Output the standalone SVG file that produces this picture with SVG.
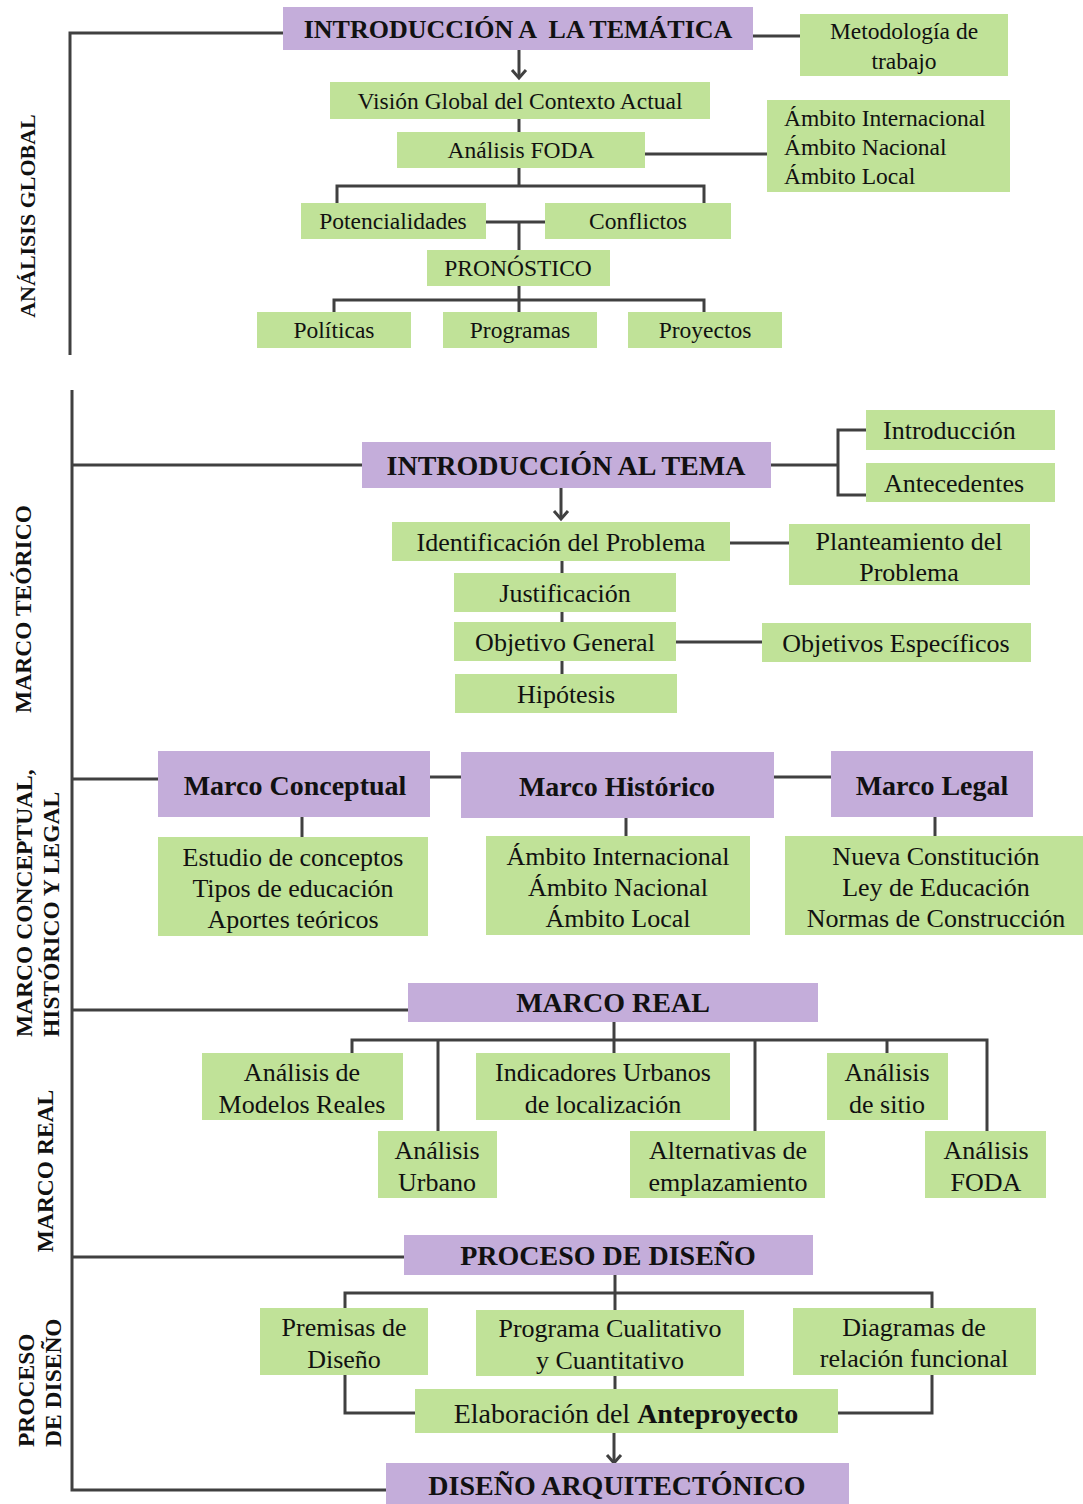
<svg xmlns="http://www.w3.org/2000/svg" width="1083" height="1504" viewBox="0 0 1083 1504">
<style>
.p{fill:#C4ADDA}
.g{fill:#C0E298}
.ln{fill:none;stroke:#404040;stroke-width:3}
text{font-family:"Liberation Serif","Times New Roman",serif;fill:#111}
.t1{font-size:23.5px;text-anchor:middle}
.t1s{font-size:23.5px}
.t2{font-size:26px;text-anchor:middle}
.t2s{font-size:26px}
.h1{font-size:26px;font-weight:bold;text-anchor:middle;white-space:pre}
.h2{font-size:28px;font-weight:bold;text-anchor:middle}
.sd{font-size:23.5px;font-weight:bold}
</style>
<defs>
<marker id="arr" viewBox="-10 -8 12 16" refX="0" refY="0" markerWidth="12" markerHeight="16" markerUnits="userSpaceOnUse" orient="auto" overflow="visible">
<path d="M-8,-7 L0,0 L-8,7" fill="none" stroke="#404040" stroke-width="3"/>
</marker>
</defs>

<g id="connectors">
<path class="ln" d="M70,355 V33 H283"/>
<path class="ln" d="M753,36 H800"/>
<path class="ln" d="M519,50 V78" marker-end="url(#arr)"/>
<path class="ln" d="M519,119 V132"/>
<path class="ln" d="M645,154 H767"/>
<path class="ln" d="M519,168 V186"/>
<path class="ln" d="M337,203 V186 H704 V203"/>
<path class="ln" d="M486,222 H545"/>
<path class="ln" d="M519,222 V250"/>
<path class="ln" d="M519,286 V312"/>
<path class="ln" d="M334,312 V300 H704 V312"/>

<path class="ln" d="M72,390 V1490 H386"/>
<path class="ln" d="M72,465 H362"/>
<path class="ln" d="M771,465 H838"/>
<path class="ln" d="M866,430 H838 V495 H866"/>
<path class="ln" d="M561,488 V519" marker-end="url(#arr)"/>
<path class="ln" d="M730,543 H789"/>
<path class="ln" d="M562,561 V573"/>
<path class="ln" d="M562,612 V622"/>
<path class="ln" d="M562,661 V674"/>
<path class="ln" d="M676,642 H762"/>

<path class="ln" d="M72,779 H158"/>
<path class="ln" d="M430,777 H461"/>
<path class="ln" d="M774,777 H831"/>
<path class="ln" d="M302,817 V837"/>
<path class="ln" d="M626,818 V836"/>
<path class="ln" d="M935,817 V836"/>

<path class="ln" d="M72,1010 H408"/>
<path class="ln" d="M614,1022 V1053"/>
<path class="ln" d="M352,1053 V1040 H987 V1131"/>
<path class="ln" d="M438,1040 V1131"/>
<path class="ln" d="M755,1040 V1131"/>
<path class="ln" d="M887,1040 V1053"/>

<path class="ln" d="M72,1257 H404"/>
<path class="ln" d="M615,1275 V1310"/>
<path class="ln" d="M345,1308 V1293 H932 V1308"/>
<path class="ln" d="M345,1375 V1413 H415"/>
<path class="ln" d="M932,1375 V1413 H838"/>
<path class="ln" d="M615,1376 V1389"/>
<path class="ln" d="M614,1433 V1463" marker-end="url(#arr)"/>
</g>

<g id="labels">
<text class="sd" transform="translate(35,216) rotate(-90)" text-anchor="middle" style="font-size:22px">ANÁLISIS GLOBAL</text>
<text class="sd" transform="translate(31,609) rotate(-90)" text-anchor="middle">MARCO TEÓRICO</text>
<text class="sd" transform="translate(32,1037) rotate(-90)">MARCO CONCEPTUAL,</text>
<text class="sd" transform="translate(59,1037) rotate(-90)">HISTÓRICO Y LEGAL</text>
<text class="sd" transform="translate(53,1171) rotate(-90)" text-anchor="middle">MARCO REAL</text>
<text class="sd" transform="translate(34,1447) rotate(-90)">PROCESO</text>
<text class="sd" transform="translate(61,1447) rotate(-90)">DE DISEÑO</text>
</g>

<g id="n_intro_tematica"><rect class="p" x="283" y="7" width="470" height="43"/><text class="h1" x="518" y="38" xml:space="preserve">INTRODUCCIÓN A  LA TEMÁTICA</text></g>
<g id="n_metodologia"><rect class="g" x="800" y="14" width="208" height="62"/><text class="t1" x="904" y="39">Metodología de</text><text class="t1" x="904" y="69">trabajo</text></g>
<g id="n_vision"><rect class="g" x="330" y="82" width="380" height="37"/><text class="t1" x="520" y="109">Visión Global del Contexto Actual</text></g>
<g id="n_foda"><rect class="g" x="397" y="132" width="248" height="36"/><text class="t1" x="521" y="158">Análisis FODA</text></g>
<g id="n_ambitos_global"><rect class="g" x="767" y="100" width="243" height="92"/><text class="t1s" x="784" y="126">Ámbito Internacional</text><text class="t1s" x="784" y="155">Ámbito Nacional</text><text class="t1s" x="784" y="184">Ámbito Local</text></g>
<g id="n_potencialidades"><rect class="g" x="301" y="203" width="185" height="36"/><text class="t1" x="393" y="229">Potencialidades</text></g>
<g id="n_conflictos"><rect class="g" x="545" y="203" width="186" height="36"/><text class="t1" x="638" y="229">Conflictos</text></g>
<g id="n_pronostico"><rect class="g" x="427" y="250" width="183" height="36"/><text class="t1" x="518" y="276">PRONÓSTICO</text></g>
<g id="n_politicas"><rect class="g" x="257" y="312" width="154" height="36"/><text class="t1" x="334" y="338">Políticas</text></g>
<g id="n_programas"><rect class="g" x="443" y="312" width="154" height="36"/><text class="t1" x="520" y="338">Programas</text></g>
<g id="n_proyectos"><rect class="g" x="628" y="312" width="154" height="36"/><text class="t1" x="705" y="338">Proyectos</text></g>

<g id="n_intro_tema"><rect class="p" x="362" y="442" width="409" height="46"/><text class="h2" x="566" y="475">INTRODUCCIÓN AL TEMA</text></g>
<g id="n_introduccion"><rect class="g" x="866" y="410" width="189" height="40"/><text class="t2s" x="883" y="439">Introducción</text></g>
<g id="n_antecedentes"><rect class="g" x="866" y="463" width="189" height="39"/><text class="t2s" x="884" y="492">Antecedentes</text></g>
<g id="n_identificacion"><rect class="g" x="392" y="522" width="338" height="39"/><text class="t2" x="561" y="551">Identificación del Problema</text></g>
<g id="n_planteamiento"><rect class="g" x="789" y="524" width="241" height="61"/><text class="t2" x="909" y="550">Planteamiento del</text><text class="t2" x="909" y="581">Problema</text></g>
<g id="n_justificacion"><rect class="g" x="454" y="573" width="222" height="39"/><text class="t2" x="565" y="602">Justificación</text></g>
<g id="n_objetivo_general"><rect class="g" x="454" y="622" width="222" height="39"/><text class="t2" x="565" y="651">Objetivo General</text></g>
<g id="n_objetivos_especificos"><rect class="g" x="762" y="623" width="269" height="39"/><text class="t2" x="896" y="652">Objetivos Específicos</text></g>
<g id="n_hipotesis"><rect class="g" x="455" y="674" width="222" height="39"/><text class="t2" x="566" y="703">Hipótesis</text></g>

<g id="n_marco_conceptual"><rect class="p" x="158" y="751" width="272" height="66"/><text class="h2" x="295" y="795">Marco Conceptual</text></g>
<g id="n_marco_historico"><rect class="p" x="461" y="752" width="313" height="66"/><text class="h2" x="617" y="796">Marco Histórico</text></g>
<g id="n_marco_legal"><rect class="p" x="831" y="751" width="202" height="66"/><text class="h2" x="932" y="795">Marco Legal</text></g>
<g id="n_conceptual_items"><rect class="g" x="158" y="837" width="270" height="99"/><text class="t2" x="293" y="866">Estudio de conceptos</text><text class="t2" x="293" y="897">Tipos de educación</text><text class="t2" x="293" y="928">Aportes teóricos</text></g>
<g id="n_historico_items"><rect class="g" x="486" y="836" width="264" height="99"/><text class="t2" x="618" y="865">Ámbito Internacional</text><text class="t2" x="618" y="896">Ámbito Nacional</text><text class="t2" x="618" y="927">Ámbito Local</text></g>
<g id="n_legal_items"><rect class="g" x="785" y="836" width="298" height="99"/><text class="t2" x="936" y="865">Nueva Constitución</text><text class="t2" x="936" y="896">Ley de Educación</text><text class="t2" x="936" y="927">Normas de Construcción</text></g>

<g id="n_marco_real"><rect class="p" x="408" y="983" width="410" height="39"/><text class="h2" x="613" y="1012">MARCO REAL</text></g>
<g id="n_modelos"><rect class="g" x="202" y="1053" width="201" height="67"/><text class="t2" x="302" y="1081">Análisis de</text><text class="t2" x="302" y="1113">Modelos Reales</text></g>
<g id="n_urbano"><rect class="g" x="378" y="1131" width="119" height="67"/><text class="t2" x="437" y="1159">Análisis</text><text class="t2" x="437" y="1191">Urbano</text></g>
<g id="n_indicadores"><rect class="g" x="476" y="1053" width="254" height="67"/><text class="t2" x="603" y="1081">Indicadores Urbanos</text><text class="t2" x="603" y="1113">de localización</text></g>
<g id="n_alternativas"><rect class="g" x="630" y="1131" width="195" height="67"/><text class="t2" x="728" y="1159">Alternativas de</text><text class="t2" x="728" y="1191">emplazamiento</text></g>
<g id="n_sitio"><rect class="g" x="827" y="1053" width="121" height="67"/><text class="t2" x="887" y="1081">Análisis</text><text class="t2" x="887" y="1113">de sitio</text></g>
<g id="n_foda_real"><rect class="g" x="925" y="1131" width="121" height="67"/><text class="t2" x="986" y="1159">Análisis</text><text class="t2" x="986" y="1191">FODA</text></g>

<g id="n_proceso"><rect class="p" x="404" y="1235" width="409" height="40"/><text class="h2" x="608" y="1265">PROCESO DE DISEÑO</text></g>
<g id="n_premisas"><rect class="g" x="260" y="1308" width="168" height="67"/><text class="t2" x="344" y="1336">Premisas de</text><text class="t2" x="344" y="1368">Diseño</text></g>
<g id="n_programa"><rect class="g" x="476" y="1310" width="268" height="66"/><text class="t2" x="610" y="1337">Programa Cualitativo</text><text class="t2" x="610" y="1369">y Cuantitativo</text></g>
<g id="n_diagramas"><rect class="g" x="793" y="1308" width="243" height="67"/><text class="t2" x="914" y="1336">Diagramas de</text><text class="t2" x="914" y="1367">relación funcional</text></g>
<g id="n_elaboracion"><rect class="g" x="415" y="1389" width="423" height="44"/><text x="626" y="1423" text-anchor="middle" style="font-size:28px">Elaboración del <tspan font-weight="bold">Anteproyecto</tspan></text></g>
<g id="n_diseno"><rect class="p" x="386" y="1463" width="463" height="45"/><text class="h2" x="617" y="1495">DISEÑO ARQUITECTÓNICO</text></g>
</svg>
